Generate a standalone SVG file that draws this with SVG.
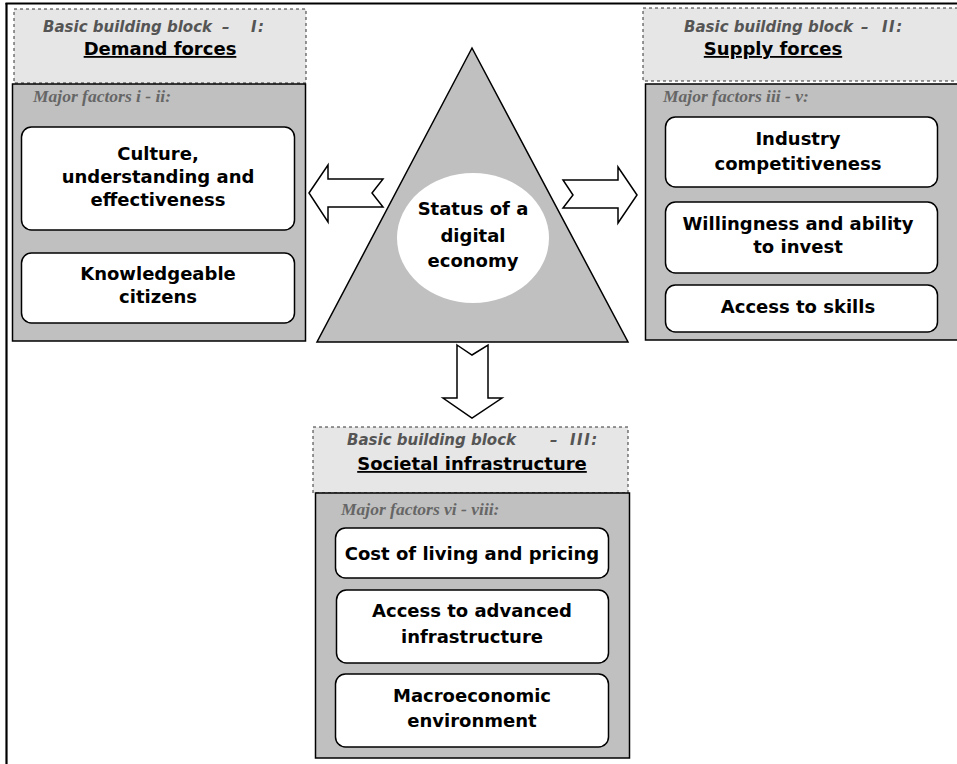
<svg xmlns="http://www.w3.org/2000/svg" width="957" height="764" viewBox="0 0 957 764">
<style>
.hdr{fill:#e6e6e6;stroke:#333;stroke-width:1;stroke-dasharray:3 3}
.panel{fill:#c0c0c0;stroke:#000;stroke-width:1.5}
.box{fill:#fff;stroke:#000;stroke-width:1.5}
.arrow{fill:#fff;stroke:#000;stroke-width:1.5;stroke-linejoin:miter}
.t{font-family:"DejaVu Sans",Verdana,sans-serif;font-weight:bold;font-size:18px;fill:#000;text-anchor:middle}
.ttl{font-family:"DejaVu Sans",Verdana,sans-serif;font-weight:bold;font-style:italic;font-size:15px;fill:#555}
.num{letter-spacing:1.5px}
.sub{font-family:"DejaVu Sans",Verdana,sans-serif;font-weight:bold;font-size:18px;fill:#000;text-anchor:middle;text-decoration:underline}
.mf{font-family:"Liberation Serif","Times New Roman",serif;font-weight:bold;font-style:italic;font-size:17.5px;fill:#666}
</style>
<rect width="957" height="764" fill="#fff"/>
<g id="frame">
<line x1="5.5" y1="3.5" x2="957" y2="3.5" stroke="#000" stroke-width="2.2"/>
<line x1="6.5" y1="3" x2="6.5" y2="764" stroke="#000" stroke-width="2.2"/>
</g>
<g id="block-I">
<rect class="hdr" x="14" y="9" width="292" height="74"/>
<text class="ttl" y="32"><tspan x="43">Basic building block</tspan><tspan x="222">–</tspan><tspan class="num" x="251">I:</tspan></text>
<text class="sub" x="160" y="55">Demand forces</text>
<rect class="panel" x="12.5" y="84" width="293" height="257"/>
<text class="mf" x="33" y="102">Major factors i - ii:</text>
</g>
<g id="factor-culture">
<rect class="box" x="21.5" y="127" width="273" height="103" rx="10"/>
<text class="t" x="158" y="160">Culture,</text>
<text class="t" x="158" y="183">understanding and</text>
<text class="t" x="158" y="206">effectiveness</text>
</g>
<g id="factor-knowledgeable">
<rect class="box" x="21.5" y="253" width="273" height="70" rx="10"/>
<text class="t" x="158" y="280">Knowledgeable</text>
<text class="t" x="158" y="303">citizens</text>
</g>
<g id="block-II">
<rect class="hdr" x="643" y="8" width="320" height="73"/>
<text class="ttl" y="32"><tspan x="684">Basic building block</tspan><tspan x="861">–</tspan><tspan class="num" x="882">II:</tspan></text>
<text class="sub" x="773" y="55">Supply forces</text>
<rect class="panel" x="645.5" y="84" width="320" height="256"/>
<text class="mf" x="663" y="102">Major factors iii - v:</text>
</g>
<g id="factor-industry">
<rect class="box" x="665.5" y="117" width="272" height="70" rx="10"/>
<text class="t" x="798" y="145">Industry</text>
<text class="t" x="798" y="170">competitiveness</text>
</g>
<g id="factor-willingness">
<rect class="box" x="665.5" y="202" width="272" height="71" rx="10"/>
<text class="t" x="798" y="230">Willingness and ability</text>
<text class="t" x="798" y="253">to invest</text>
</g>
<g id="factor-skills">
<rect class="box" x="665.5" y="285" width="272" height="47" rx="10"/>
<text class="t" x="798" y="313">Access to skills</text>
</g>
<g id="status">
<polygon points="472,48 628,342 317,342" fill="#c0c0c0" stroke="#000" stroke-width="1.5"/>
<ellipse cx="473" cy="238" rx="76" ry="65" fill="#fff"/>
<text class="t" x="473" y="215">Status of a</text>
<text class="t" x="473" y="242">digital</text>
<text class="t" x="473" y="267">economy</text>
</g>
<g id="connectors">
<polygon class="arrow" points="309,193 328,165 328,179 383,179 372,193 383,207 328,207 328,222"/>
<polygon class="arrow" points="637,195 618,167 618,180 563,180 573,195 563,208 618,208 618,223"/>
<polygon class="arrow" points="457,345 472,355 488,345 488,398 502,398 472,418 443,398 457,398"/>
</g>
<g id="block-III">
<rect class="hdr" x="313" y="427" width="315" height="66"/>
<text class="ttl" y="445"><tspan x="347">Basic building block</tspan><tspan x="550">–</tspan><tspan class="num" x="570">III:</tspan></text>
<text class="sub" x="472" y="470">Societal infrastructure</text>
<rect class="panel" x="315.5" y="493" width="314" height="265"/>
<text class="mf" x="341" y="515">Major factors vi - viii:</text>
</g>
<g id="factor-cost">
<rect class="box" x="335.5" y="528" width="273" height="50" rx="10"/>
<text class="t" x="472" y="560">Cost of living and pricing</text>
</g>
<g id="factor-infrastructure">
<rect class="box" x="336.5" y="590" width="272" height="73" rx="10"/>
<text class="t" x="472" y="617">Access to advanced</text>
<text class="t" x="472" y="643">infrastructure</text>
</g>
<g id="factor-macro">
<rect class="box" x="335.5" y="674" width="273" height="73" rx="10"/>
<text class="t" x="472" y="702">Macroeconomic</text>
<text class="t" x="472" y="727">environment</text>
</g>
</svg>
